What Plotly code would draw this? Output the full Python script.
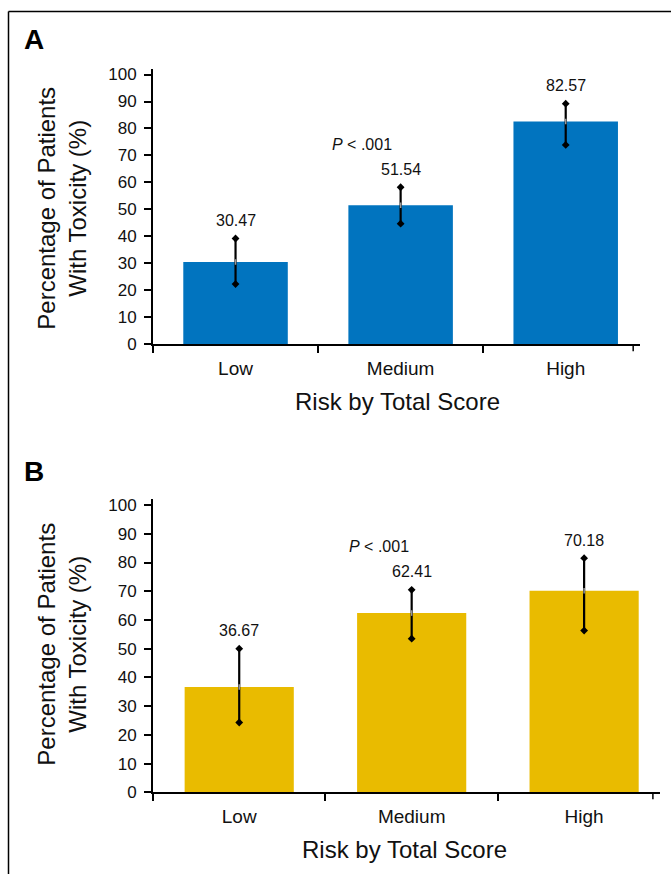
import plotly.graph_objects as go

categories = ["Low", "Medium", "High"]
y_ticks = [0, 10, 20, 30, 40, 50, 60, 70, 80, 90, 100]

a_values = [30.47, 51.54, 82.57]
a_upper = [39.2, 58.2, 89.2]
a_lower = [22.3, 44.7, 73.9]

b_values = [36.67, 62.41, 70.18]
b_upper = [50.0, 70.5, 81.5]
b_lower = [24.3, 53.5, 56.3]

p_label = "<i>P</i> < .001"
y_title = "Percentage of Patients<br>With Toxicity (%)"
x_title = "Risk by Total Score"

BLUE = "#0174BF"
YELLOW = "#E9BB00"
FONT = "Liberation Sans, Arial, Helvetica, sans-serif"
W, H = 671, 884

fig = go.Figure()


def add_panel(values, upper, lower, color, xa, ya):
    fig.add_trace(go.Bar(
        x=categories, y=values, marker=dict(color=color, line=dict(width=0)),
        error_y=dict(type="data", symmetric=False,
                     array=[u - v for u, v in zip(upper, values)],
                     arrayminus=[v - l for v, l in zip(values, lower)],
                     color="black", thickness=2.2, width=0),
        xaxis=xa, yaxis=ya, showlegend=False, hoverinfo="skip"))
    fig.add_trace(go.Scatter(
        x=categories + categories, y=upper + lower, mode="markers",
        marker=dict(symbol="diamond", size=6, color="black"),
        xaxis=xa, yaxis=ya, showlegend=False, hoverinfo="skip"))
    fig.add_trace(go.Scatter(
        x=categories, y=values, mode="markers",
        marker=dict(symbol="line-ns", size=4, line=dict(width=1.5, color="#9a9a9a")),
        xaxis=xa, yaxis=ya, showlegend=False, hoverinfo="skip"))


add_panel(a_values, a_upper, a_lower, BLUE, "x", "y")
add_panel(b_values, b_upper, b_lower, YELLOW, "x2", "y2")


def xaxis_cfg(dom, rng, anchor):
    return dict(domain=dom, range=rng, anchor=anchor, type="category",
                showline=True, linecolor="black", linewidth=2,
                ticks="outside", tickson="boundaries", ticklen=7, tickwidth=1.5,
                tickcolor="black", tickfont=dict(size=19, color="#111", family=FONT),
                ticklabelstandoff=6, showgrid=False, zeroline=False)


def yaxis_cfg(dom, anchor):
    return dict(domain=dom, range=[0, 102], anchor=anchor,
                tickmode="array", tickvals=y_ticks, ticktext=[str(t) for t in y_ticks],
                showline=True, linecolor="black", linewidth=2,
                ticks="outside", ticklen=7, tickwidth=1.5, tickcolor="black",
                tickfont=dict(size=17, color="#111", family=FONT),
                ticklabelstandoff=4, showgrid=False, zeroline=False)


def px_x(p):
    return p / W


def px_y(p):
    return 1 - p / H


fig.update_layout(
    width=W, height=H, autosize=False,
    margin=dict(l=0, r=0, t=0, b=0),
    paper_bgcolor="white", plot_bgcolor="white",
    font=dict(family=FONT, color="#111"),
    bargap=0.367,
    xaxis=xaxis_cfg([px_x(153), px_x(640)], [-0.5, 2.45], "y"),
    yaxis=yaxis_cfg([px_y(345.7), px_y(66.2)], "x"),
    xaxis2=xaxis_cfg([px_x(153), px_x(660)], [-0.5, 2.44], "y2"),
    yaxis2=yaxis_cfg([px_y(801), px_y(503.3)], "x2"),
)

annotations = []
shapes = []

for xa, ya, vals, ups, p_y, p_shift, ydom_mid, xt_y, letter, letter_y, xcenter in [
    ("x", "y", a_values, a_upper, 74.2, -39, 208, 403.5, "A", 36, 397),
    ("x2", "y2", b_values, b_upper, 85.7, -33, 651, 859.5, "B", 475, 405),
]:
    for c, v, u in zip(categories, vals, ups):
        annotations.append(dict(x=c, y=u, xref=xa, yref=ya, text=f"{v:.2f}",
                                showarrow=False, yanchor="middle", yshift=18,
                                font=dict(size=16, color="#111", family=FONT)))
    annotations.append(dict(x="Medium", y=p_y, xref=xa, yref=ya, text=p_label,
                            showarrow=False, xshift=p_shift, yanchor="middle",
                            font=dict(size=16, color="#111", family=FONT)))
    annotations.append(dict(x=px_x(62), y=px_y(ydom_mid), xref="paper", yref="paper",
                            text=y_title, textangle=-90, showarrow=False,
                            xanchor="center", yanchor="middle",
                            font=dict(size=24, color="#111", family=FONT)))
    annotations.append(dict(x=px_x(xcenter), y=px_y(xt_y), xref="paper", yref="paper",
                            text=x_title, showarrow=False,
                            xanchor="center", yanchor="middle",
                            font=dict(size=24, color="#111", family=FONT)))
    annotations.append(dict(x=px_x(34), y=px_y(letter_y), xref="paper", yref="paper",
                            text=f"<b>{letter}</b>", showarrow=False,
                            xanchor="center", yanchor="middle",
                            font=dict(size=28, color="black", family=FONT)))
    shapes.append(dict(type="line", xref=f"{xa} domain", yref=f"{ya} domain",
                       x0=0.986, x1=0.986, ysizemode="pixel", yanchor=0,
                       y0=0, y1=-7, line=dict(color="black", width=1.5)))

# frame lines (top and left)
shapes.append(dict(type="line", xref="paper", yref="paper",
                   x0=px_x(8.5), x1=1, y0=px_y(7.5), y1=px_y(7.5),
                   line=dict(color="black", width=1.5)))
shapes.append(dict(type="line", xref="paper", yref="paper",
                   x0=px_x(8.5), x1=px_x(8.5), y0=0, y1=px_y(7.5),
                   line=dict(color="black", width=1.5)))

fig.update_layout(annotations=annotations, shapes=shapes)

fig.write_html(
    "out.html",
    config={"displayModeBar": False},
    post_script="document.body.style.margin='0';document.body.style.overflow='hidden';",
)
